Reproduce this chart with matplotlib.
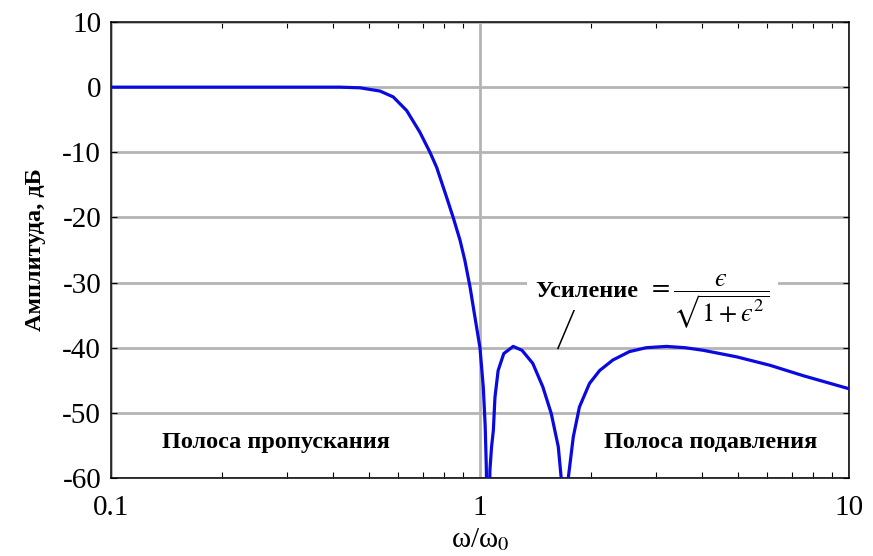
import matplotlib
matplotlib.use("Agg")
import matplotlib.pyplot as plt
from matplotlib.ticker import FixedLocator, NullFormatter, FixedFormatter

# values (omega/omega0, gain in dB)
freq = [0.10, 0.20, 0.30, 0.417, 0.473, 0.536, 0.582, 0.633, 0.687, 0.732,
        0.763, 0.812, 0.846, 0.883, 0.91, 0.94, 0.969, 1.00, 1.021, 1.033,
        1.040, 1.052, 1.064, 1.075, 1.087, 1.098, 1.12, 1.16, 1.23, 1.30,
        1.39, 1.48, 1.56, 1.63, 1.66, 1.70, 1.735, 1.79, 1.86, 1.98,
        2.11, 2.29, 2.54, 2.82, 3.20, 3.60, 4.03, 4.96, 6.11, 7.52, 10.0]
gain_db = [0.0, 0.0, 0.0, 0.0, -0.1, -0.6, -1.5, -3.6, -6.9, -10.0,
           -12.3, -16.9, -20.0, -23.5, -26.6, -30.7, -35.3, -40.0, -46.1, -52.0,
           -58.0, -75.0, -58.8, -55.2, -52.7, -47.6, -43.5, -40.9, -39.8, -40.4,
           -42.4, -46.0, -50.1, -55.2, -60.0, -75.0, -60.0, -53.7, -49.1, -45.5,
           -43.5, -41.9, -40.6, -40.0, -39.8, -40.0, -40.4, -41.4, -42.7, -44.3, -46.3]

x_ticks = [0.1, 1, 10]
x_ticklabels = ["0.1", "1", "10"]
y_ticks = [10, 0, -10, -20, -30, -40, -50, -60]

plt.rcParams["font.family"] = ["Liberation Serif", "DejaVu Serif"]
plt.rcParams["axes.unicode_minus"] = False

fig = plt.figure(figsize=(8.73, 5.56), dpi=100)
ax = fig.add_axes([0.1271, 0.1403, 0.8454, 0.8201])

ax.plot(freq, gain_db, color="#0a0ae0", lw=2.3, zorder=3)

ax.set_xscale("log")
ax.set_xlim(0.1, 10)
ax.set_ylim(-60, 10)

ax.xaxis.set_major_locator(FixedLocator(x_ticks))
ax.xaxis.set_major_formatter(FixedFormatter(x_ticklabels))
ax.xaxis.set_minor_formatter(NullFormatter())
ax.yaxis.set_major_locator(FixedLocator(y_ticks))

ax.tick_params(which="both", direction="in", top=True, right=True,
               labelsize=21, width=0.8, color="black")
ax.tick_params(axis="x", which="major", length=0, pad=12)
ax.tick_params(axis="x", which="minor", length=4)
ax.tick_params(axis="y", which="major", length=4, pad=7)

ax.set_axisbelow(True)
ax.grid(True, which="major", color="#b4b4b4", lw=2)
for s in ax.spines.values():
    s.set_linewidth(1.1)

ax.set_ylabel("Амплитуда, дБ", fontsize=17.5, fontweight="bold", labelpad=12)
ax.set_xlabel("ω/ω$_0$", fontsize=21, labelpad=4, math_fontfamily="stix")

ax.text(0.28, -54.5, "Полоса пропускания", fontsize=17.5, fontweight="bold",
        ha="center", va="center")
ax.text(4.23, -54.5, "Полоса подавления", fontsize=17.5, fontweight="bold",
        ha="center", va="center")

ax.text(2.86, -33.0, r"$=\dfrac{ϵ}{\sqrt{1+ϵ^2}}$", fontsize=19,
        ha="left", va="center", math_fontfamily="stix",
        bbox=dict(facecolor="white", edgecolor="none", pad=6), zorder=4)
ax.text(1.41, -31.3, "Усиление", fontsize=17.5, fontweight="bold",
        ha="left", va="center",
        bbox=dict(facecolor="white", edgecolor="none", pad=6), zorder=5)
ax.plot([1.81, 1.627], [-33.9, -40.1], color="black", lw=1.1, zorder=4)

fig.savefig("out.png", dpi=100)
